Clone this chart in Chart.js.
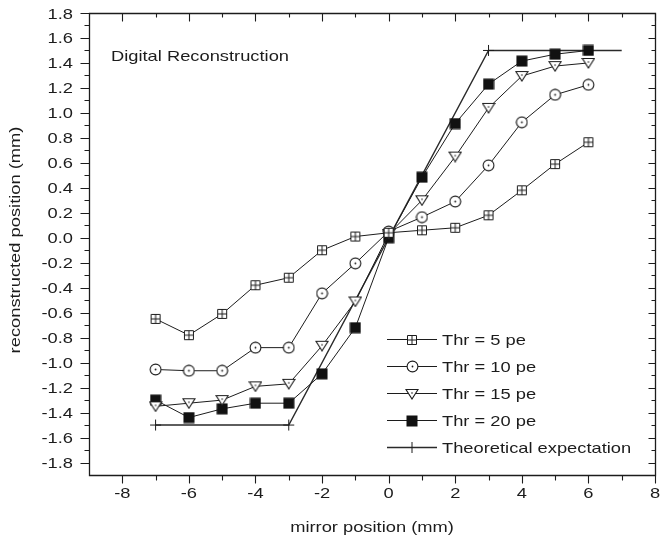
<!DOCTYPE html>
<html>
<head>
<meta charset="utf-8">
<script src="https://cdn.jsdelivr.net/npm/chart.js@4.4.1/dist/chart.umd.min.js"></script>
<style>
  html, body { margin: 0; padding: 0; background: #ffffff; }
  #wrap { width: 662px; height: 543px; }
</style>
</head>
<body>
<div id="wrap"><canvas id="chart"></canvas></div>
<script>
// Mirror positions (mm) where the reconstruction was measured
const mirrorPos = [-7, -6, -5, -4, -3, -2, -1, 0, 1, 2, 3, 4, 5, 6];

// Reconstructed position (mm) for each photo-electron threshold
const thr5  = [-0.65, -0.78, -0.61, -0.38, -0.32, -0.10, 0.01, 0.04, 0.06, 0.08, 0.18, 0.38, 0.59, 0.765];
const thr10 = [-1.055, -1.065, -1.065, -0.88, -0.88, -0.445, -0.205, 0.05, 0.165, 0.29, 0.58, 0.925, 1.145, 1.225];
const thr15 = [-1.35, -1.325, -1.30, -1.19, -1.17, -0.865, -0.51, 0.03, 0.30, 0.65, 1.04, 1.295, 1.375, 1.40];
const thr20 = [-1.30, -1.44, -1.37, -1.325, -1.325, -1.09, -0.72, 0.00, 0.485, 0.915, 1.23, 1.415, 1.47, 1.50];

// Ideal response: flat beyond +-3 mm, linear in between
const theoryX = [-7, -3, 3, 7];
const theoryY = [-1.5, -1.5, 1.5, 1.5];

// Axis ticks
const xMajorTicks = [-8, -6, -4, -2, 0, 2, 4, 6, 8];
const xMinorTicks = [-7, -5, -3, -1, 1, 3, 5, 7];
const yMajorTicks = [-1.8, -1.6, -1.4, -1.2, -1.0, -0.8, -0.6, -0.4, -0.2, 0.0, 0.2, 0.4, 0.6, 0.8, 1.0, 1.2, 1.4, 1.6, 1.8];
const yMinorTicks = [-1.7, -1.5, -1.3, -1.1, -0.9, -0.7, -0.5, -0.3, -0.1, 0.1, 0.3, 0.5, 0.7, 0.9, 1.1, 1.3, 1.5, 1.7];

const seriesLabels = ['Thr = 5 pe', 'Thr = 10 pe', 'Thr = 15 pe', 'Thr = 20 pe', 'Theoretical expectation'];
const xTitle = 'mirror position (mm)';
const yTitle = 'reconstructed position (mm)';
const noteText = 'Digital Reconstruction';

const INK = '#1c1c1c';
const FONT = '"Liberation Sans", Arial, Helvetica, sans-serif';
const TEXT_SIZE = 15;
const TEXT_STRETCH = 1.22;

// ---- marker symbols drawn onto small canvases ----
function makeMarker(w, h, paint) {
  const c = document.createElement('canvas');
  c.width = w; c.height = h;
  const g = c.getContext('2d');
  paint(g);
  return c;
}
const markSquareCross = makeMarker(12, 12, g => {
  g.fillStyle = '#fff'; g.strokeStyle = INK; g.lineWidth = 1;
  g.beginPath(); g.rect(1.5, 1.5, 9, 9); g.fill(); g.stroke();
  g.beginPath();
  g.moveTo(6, 1.5); g.lineTo(6, 10.5);
  g.moveTo(1.5, 6); g.lineTo(10.5, 6);
  g.stroke();
});
const markCircleDot = makeMarker(13, 13, g => {
  g.fillStyle = '#fff'; g.strokeStyle = INK; g.lineWidth = 1.1;
  g.beginPath(); g.arc(6.5, 6.5, 5.4, 0, Math.PI * 2); g.fill(); g.stroke();
  g.fillStyle = INK;
  g.beginPath(); g.arc(6.5, 6.5, 0.9, 0, Math.PI * 2); g.fill();
});
const markTriangleDot = makeMarker(14, 12, g => {
  g.fillStyle = '#fff'; g.strokeStyle = INK; g.lineWidth = 1.1;
  g.beginPath(); g.moveTo(1, 1.5); g.lineTo(13, 1.5); g.lineTo(7, 11); g.closePath();
  g.fill(); g.stroke();
  g.fillStyle = INK;
  g.beginPath(); g.arc(7, 5, 0.8, 0, Math.PI * 2); g.fill();
});
const markFilledSquare = makeMarker(12, 12, g => {
  g.fillStyle = '#111';
  g.fillRect(0.5, 0.5, 11, 11);
});

function toPoints(xs, ys) { return xs.map((x, i) => ({ x: x, y: ys[i] })); }

function measured(label, values, marker) {
  return {
    label: label,
    data: toPoints(mirrorPos, values),
    borderColor: INK,
    borderWidth: 1,
    pointStyle: marker,
    pointRadius: 6,
    pointHoverRadius: 6,
    showLine: true,
    fill: false,
    tension: 0
  };
}

const datasets = [
  measured(seriesLabels[0], thr5, markSquareCross),
  measured(seriesLabels[1], thr10, markCircleDot),
  measured(seriesLabels[2], thr15, markTriangleDot),
  measured(seriesLabels[3], thr20, markFilledSquare),
  {
    label: seriesLabels[4],
    data: toPoints(theoryX, theoryY),
    borderColor: '#2a2a2a',
    borderWidth: 1.4,
    pointStyle: 'cross',
    pointBorderColor: INK,
    pointBorderWidth: 1,
    pointRadius: ctx => (ctx.dataIndex === theoryX.length - 1 ? 0 : 5.5),
    showLine: true,
    fill: false,
    tension: 0
  }
];

// ---- text helper: Helvetica-like face, slightly widened ----
function drawText(ctx, str, x, y, align, angle) {
  ctx.save();
  ctx.font = TEXT_SIZE + 'px ' + FONT;
  ctx.fillStyle = INK;
  ctx.textBaseline = 'alphabetic';
  ctx.textAlign = align;
  ctx.translate(x, y);
  if (angle) ctx.rotate(angle);
  ctx.scale(TEXT_STRETCH, 1);
  ctx.fillText(str, 0, 0);
  ctx.restore();
}

// ---- framed axes with outward ticks on bottom/left, inward on top/right ----
const framePlugin = {
  id: 'frame',
  beforeDatasetsDraw(chart) {
    const ctx = chart.ctx;
    const xs = chart.scales.x, ys = chart.scales.y;
    const a = chart.chartArea;
    const L = Math.round(a.left) + 0.5, R = Math.round(a.right) + 0.5;
    const T = Math.round(a.top) + 0.5, B = Math.round(a.bottom) + 0.5;
    ctx.save();
    ctx.strokeStyle = INK;
    ctx.lineWidth = 1.3;
    ctx.beginPath();
    ctx.rect(L, T, R - L, B - T);
    ctx.stroke();

    ctx.lineWidth = 1.1;
    ctx.beginPath();
    xMajorTicks.forEach(v => {
      const px = Math.round(xs.getPixelForValue(v)) + 0.5;
      ctx.moveTo(px, B); ctx.lineTo(px, B + 8);
      ctx.moveTo(px, T); ctx.lineTo(px, T + 8);
    });
    xMinorTicks.forEach(v => {
      const px = Math.round(xs.getPixelForValue(v)) + 0.5;
      ctx.moveTo(px, B); ctx.lineTo(px, B + 5);
      ctx.moveTo(px, T); ctx.lineTo(px, T + 4);
    });
    yMajorTicks.forEach(v => {
      const py = Math.round(ys.getPixelForValue(v)) + 0.5;
      ctx.moveTo(L, py); ctx.lineTo(L - 9, py);
      ctx.moveTo(R, py); ctx.lineTo(R - 7, py);
    });
    yMinorTicks.forEach(v => {
      const py = Math.round(ys.getPixelForValue(v)) + 0.5;
      ctx.moveTo(L, py); ctx.lineTo(L - 5, py);
      ctx.moveTo(R, py); ctx.lineTo(R - 4, py);
    });
    ctx.stroke();
    ctx.restore();

    // tick labels
    xMajorTicks.forEach(v => drawText(ctx, String(v), xs.getPixelForValue(v), a.bottom + 23, 'center'));
    yMajorTicks.forEach(v => drawText(ctx, v.toFixed(1), a.left - 16, ys.getPixelForValue(v) + 5.5, 'right'));

    // axis titles
    drawText(ctx, xTitle, (a.left + a.right) / 2, a.bottom + 57, 'center');
    drawText(ctx, yTitle, 20, (a.top + a.bottom) / 2 - 4, 'center', -Math.PI / 2);

    // annotation inside the plot
    drawText(ctx, noteText, a.left + 22, a.top + 48, 'left');
  },
  afterDatasetsDraw(chart) {
    // legend: short line through each series symbol, label to the right
    const ctx = chart.ctx;
    const a = chart.chartArea;
    const x0 = a.left + 298, x1 = a.left + 348, xm = (x0 + x1) / 2, tx = a.left + 353;
    const firstRow = a.top + 326, rowGap = 27;
    chart.data.datasets.forEach((ds, i) => {
      const y = Math.round(firstRow + i * rowGap) + 0.5;
      ctx.save();
      ctx.strokeStyle = ds.borderColor;
      ctx.lineWidth = ds.borderWidth;
      ctx.beginPath(); ctx.moveTo(x0, y); ctx.lineTo(x1, y); ctx.stroke();
      if (typeof ds.pointStyle === 'string') {
        ctx.lineWidth = 1;
        ctx.strokeStyle = INK;
        ctx.beginPath(); ctx.moveTo(xm, y - 5.5); ctx.lineTo(xm, y + 5.5); ctx.stroke();
      } else {
        const m = ds.pointStyle;
        ctx.drawImage(m, Math.round(xm - m.width / 2), Math.round(y - m.height / 2));
      }
      ctx.restore();
      drawText(ctx, ds.label, tx, y + 5.5, 'left');
    });
  }
};

new Chart(document.getElementById('chart'), {
  type: 'scatter',
  data: { datasets: datasets },
  options: {
    responsive: true,
    maintainAspectRatio: false,
    animation: false,
    events: [],
    layout: { padding: { left: 89, right: 4, top: 13, bottom: 68 } },
    scales: {
      x: { type: 'linear', min: -9, max: 8, display: false },
      y: { type: 'linear', min: -1.9, max: 1.8, display: false }
    },
    plugins: {
      legend: { display: false },
      tooltip: { enabled: false },
      title: { display: false }
    }
  },
  plugins: [framePlugin]
});
</script>
</body>
</html>
